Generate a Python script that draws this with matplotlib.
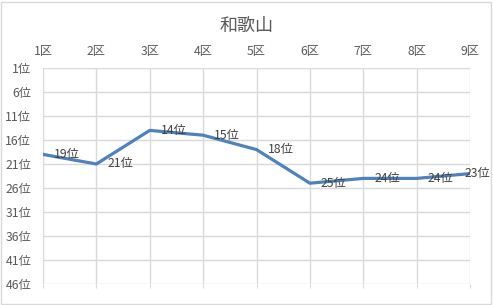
import matplotlib
matplotlib.use("Agg")
import matplotlib.pyplot as plt
from matplotlib.patches import Rectangle

plt.rcParams['font.family'] = ['Noto Sans CJK JP', 'DejaVu Sans']

# Data
districts = ["1区", "2区", "3区", "4区", "5区", "6区", "7区", "8区", "9区"]
ranks = [19, 21, 14, 15, 18, 25, 24, 24, 23]
rank_ticks = [1, 6, 11, 16, 21, 26, 31, 36, 41, 46]
title = "和歌山"

W, H = 493, 305
fig = plt.figure(figsize=(W / 100, H / 100), dpi=100)
fig.patches.append(Rectangle((1 / W, 1 / H), 490 / W, 302 / H, transform=fig.transFigure,
                             fill=False, edgecolor="#d9d9d9", linewidth=1))

ax = fig.add_axes([43 / W, 1 - 284 / H, 427 / W, 216 / H])
x = list(range(len(districts)))
ax.plot(x, ranks, color="#4f81bd", linewidth=2.3, solid_capstyle="round", zorder=3)

ax.set_xlim(0, len(districts) - 1)
ax.set_ylim(46, 1)
ax.set_xticks(x)
ax.set_xticklabels(districts)
ax.set_yticks(rank_ticks)
ax.set_yticklabels([f"{r}位" for r in rank_ticks])

ax.grid(True, color="#d9d9d9", linewidth=1)
ax.set_axisbelow(True)
for s in ax.spines.values():
    s.set_visible(False)

ax.tick_params(axis="x", top=False, labeltop=True, bottom=True, labelbottom=False,
               length=3, color="#d9d9d9", labelsize=8.8, labelcolor="#595959", pad=4)
ax.tick_params(axis="y", left=False, labelsize=8.8, labelcolor="#595959", pad=5)

# Data labels to the right of each point
for i, r in enumerate(ranks):
    if i == len(ranks) - 1:
        ax.annotate(f"{r}位", (i, r), xytext=(-4, 0), textcoords="offset points",
                    ha="left", va="center", fontsize=8.8, color="#404040")
    else:
        ax.annotate(f"{r}位", (i, r), xytext=(8, 0), textcoords="offset points",
                    ha="left", va="center", fontsize=8.8, color="#404040")

fig.text(0.5, 1 - 26 / H, title, ha="center", va="center", fontsize=13, color="#595959")

fig.savefig("out.png", dpi=100)
